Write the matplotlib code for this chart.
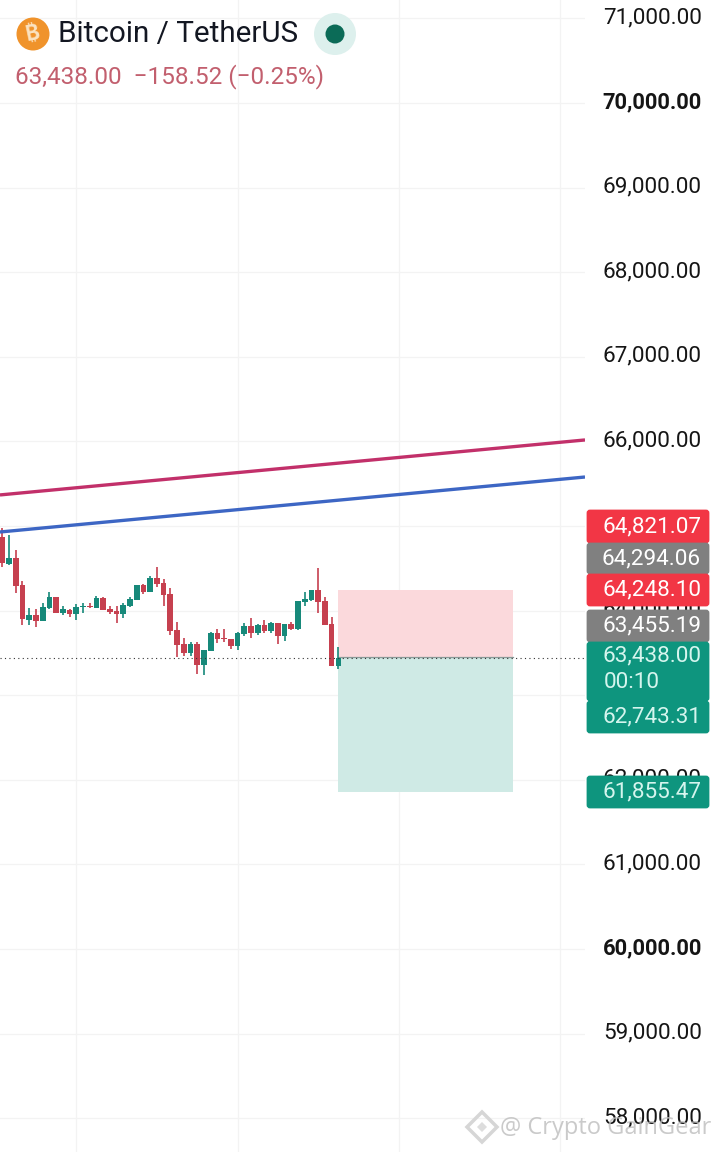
import matplotlib
matplotlib.use("Agg")
import matplotlib.pyplot as plt
from matplotlib.patches import Circle, FancyBboxPatch, Rectangle, RegularPolygon
from matplotlib.transforms import ScaledTranslation

plt.rcParams['font.family'] = ['Roboto', 'DejaVu Sans']

# candles
opens = [64874, 64551, 64618, 64302, 63889, 63944, 63881, 64031, 64157, 63971, 64011, 63960, 64038,
         64058, 64027, 64149, 64023, 63999, 63960, 64050, 64129, 64306, 64224, 64385, 64330, 64196,
         63771, 63605, 63502, 63605, 63361, 63526, 63735, 63676, 63664, 63585, 63727, 63814, 63739,
         63830, 63759, 63853, 63700, 63841, 63782, 64101, 64125, 64243, 64113, 63841, 63349]
highs = [64972, 64894, 64716, 64354, 64027, 64019, 64094, 64216, 64157, 64054, 64019, 64074, 64086,
         64094, 64172, 64157, 64054, 64054, 64094, 64157, 64302, 64310, 64409, 64511, 64373, 64263,
         63869, 63672, 63632, 63632, 63534, 63743, 63778, 63778, 63664, 63743, 63849, 63912, 63837,
         63889, 63869, 63857, 63841, 63869, 64117, 64216, 64243, 64499, 64164, 63928, 63566]
lows = [64519, 64539, 64212, 63830, 63830, 63810, 63877, 64015, 63975, 63948, 63928, 63889, 63968,
        64035, 64027, 64007, 63960, 63849, 63916, 64038, 64125, 64196, 64220, 64275, 64054, 63711,
        63455, 63467, 63467, 63250, 63239, 63522, 63621, 63632, 63546, 63534, 63700, 63672, 63711,
        63739, 63731, 63605, 63640, 63770, 63770, 64054, 64117, 63967, 63830, 63349, 63313]
closes = [64559, 64618, 64295, 63897, 63944, 63881, 64042, 64157, 63975, 64023, 63956, 64042, 64058,
          64042, 64149, 64011, 63987, 63960, 64066, 64137, 64302, 64220, 64385, 64318, 64184, 63763,
          63597, 63502, 63605, 63361, 63530, 63735, 63664, 63664, 63581, 63735, 63814, 63739, 63830,
          63759, 63853, 63700, 63837, 63782, 64113, 64133, 64243, 64101, 63833, 63349, 63438]

# trend lines (bar number, price)
line_x = [-0.35, 86.7]
red_line = [65367, 66017]
blue_line = [64929, 65579]

# long position box
box_start = 50
box_end = 76
stop_price = 64248.10
entry_price = 63455.19
target_price = 61855.47
last_price = 63438.00

tick_values = list(range(58000, 72000, 1000))
bold_ticks = [60000, 70000]
tick_labels = [f"{v:,.2f}" for v in tick_values]
grid_x = [11, 35, 59, 83]

# price tags on the axis: text, colour, top px, bottom px (stacked, as the app does it)
tag_text = ["64,821.07", "64,294.06", "64,248.10", "63,455.19", "63,438.00", "62,743.31", "61,855.47"]
tag_color = ["#F23645", "#808080", "#F23645", "#808080", "#0E957E", "#0E957E", "#0E957E"]
tag_top = [510, 543, 574, 610, 642, 701, 776]
tag_bottom = [543, 574, 606, 642, 701, 733, 808]

UP = "#17897A"
DOWN = "#C6404F"

fig = plt.figure(figsize=(7.2, 11.52), dpi=100)
ax = fig.add_axes([0, 0, 585 / 720, 1])
ax.set_xlim(-0.347, 86.7)
ax.set_ylim(57600, 71217.5)
for s in ax.spines.values():
    s.set_visible(False)

ax.set_xticks(grid_x)
ax.tick_params(axis='x', length=0, labelbottom=False)
ax.set_yticks(tick_values, labels=tick_labels)
ax.tick_params(axis='y', left=False, right=False, labelleft=False, labelright=True, pad=80.6,
               labelsize=16.2, labelcolor='#151515')
for lab, v in zip(ax.get_yticklabels(which='major'), tick_values):
    lab.set_ha('right')
    lab.set_transform(lab.get_transform() + ScaledTranslation(0, 3 / 100, fig.dpi_scale_trans))
    if v in bold_ticks:
        lab.set_fontweight('bold')
        lab.set_fontsize(15.8)
ax.grid(True, color='#F3F3F3', lw=0.9)
ax.set_axisbelow(True)

# position
ax.add_patch(Rectangle((box_start, entry_price), box_end - box_start, stop_price - entry_price,
                       fc='#FBD9DC', ec='none', zorder=1))
ax.add_patch(Rectangle((box_start, target_price), box_end - box_start, entry_price - target_price,
                       fc='#CFEAE5', ec='none', zorder=1))
ax.plot([box_start, box_end], [entry_price, entry_price], color='#8A9A98', lw=0.9, zorder=2)

# candles
for i in range(len(opens)):
    c = UP if closes[i] >= opens[i] else DOWN
    ax.vlines(i, lows[i], highs[i], color=c, lw=1.2, zorder=3)
    ax.bar(i, abs(closes[i] - opens[i]), 0.85, bottom=min(opens[i], closes[i]), color=c, zorder=3)

ax.plot(line_x, red_line, color='#C2306A', lw=2.4, zorder=4, solid_capstyle='butt')
ax.plot(line_x, blue_line, color='#3D66C4', lw=2.4, zorder=4, solid_capstyle='butt')
ax.axhline(last_price, color='#333333', lw=0.8, ls=(0, (1, 3)), zorder=4)

# overlay in pixels for the header, tags and watermark
top = fig.add_axes([0, 0, 1, 1])
top.set_xlim(0, 720)
top.set_ylim(1152, 0)
top.axis('off')
top.patch.set_alpha(0)

for t, c, y0, y1 in zip(tag_text, tag_color, tag_top, tag_bottom):
    top.add_patch(FancyBboxPatch((588, y0 + 1), 120, y1 - y0 - 2, boxstyle="round,pad=0,rounding_size=2",
                                 fc=c, ec=c, lw=2))
    fg = 'white' if c != '#0E957E' else '#D5F5EE'
    if t == "63,438.00":
        top.text(701, y0 + 14, t, color=fg, ha='right', va='center', fontsize=16.2)
        top.text(604, y0 + 40, "00:10", color=fg, ha='left', va='center', fontsize=16.2)
    else:
        top.text(701, (y0 + y1) / 2, t, color=fg, ha='right', va='center', fontsize=16.2)

# header
top.add_patch(Circle((33, 34), 16.5, fc='#F0932B', ec='none'))
top.text(33, 34, "\u20bf", color='#FBE3C2', ha='center', va='center', fontsize=15, fontweight='bold',
         rotation=12, family=['Inter', 'Noto Sans', 'Open Sans', 'Lato', 'DejaVu Sans'])
top.text(58, 34, "Bitcoin / TetherUS", color='#131722', ha='left', va='center', fontsize=21.3)
top.add_patch(Circle((335, 34), 21, fc='#DDF0ED', ec='none'))
top.add_patch(Circle((335, 34), 9.5, fc='#0B6B57', ec='none'))
top.text(15, 77, "63,438.00  \u2212158.52 (\u22120.25%)", color='#C25F6E', ha='left', va='center', fontsize=17.5)

# watermark
top.add_patch(RegularPolygon((482, 1127), 4, radius=15, fc='none', ec='#D6D6D6', lw=2.5))
top.add_patch(RegularPolygon((482, 1127), 4, radius=5, fc='#DDDDDD', ec='none'))
top.text(500, 1128, "@ Crypto GainGear", color='#BDBDBD', alpha=0.8, ha='left', va='center', fontsize=17,
         family='Open Sans')

fig.savefig("out.png", dpi=100)
